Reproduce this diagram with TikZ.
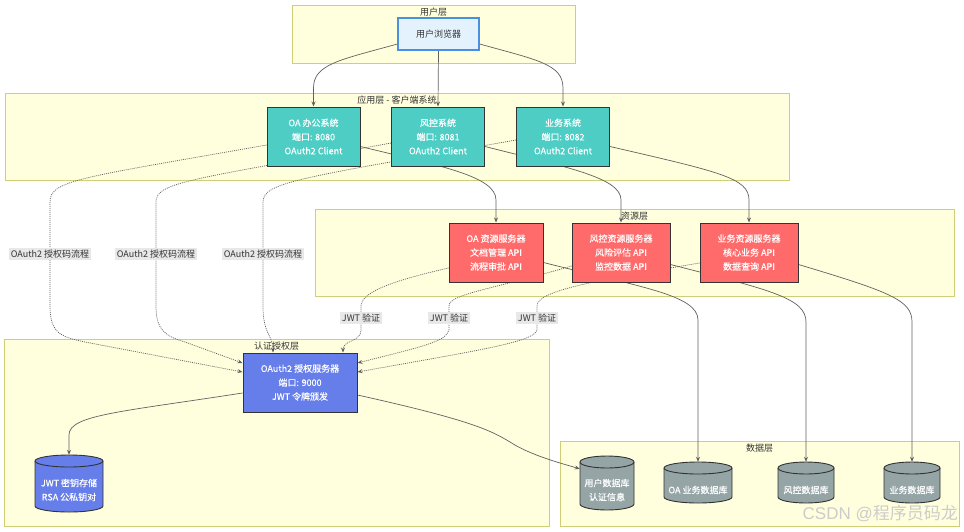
\documentclass[tikz,border=0pt]{standalone}
\usepackage{fontspec}
\setmainfont{Noto Sans CJK SC}
\newfontfamily\boxfont{Noto Sans CJK SC}[FakeBold=0.35]
\newfontfamily\wmfont{Liberation Sans}
\newfontfamily\wmcjk{Noto Sans CJK SC}
\usetikzlibrary{arrows.meta}
\pgfdeclarelayer{clusters}
\pgfdeclarelayer{edges}
\pgfdeclarelayer{nodebg}
\pgfsetlayers{clusters,edges,nodebg,main}
\definecolor{clfill}{HTML}{FFFFDE}
\definecolor{clline}{HTML}{CFCF78}
\definecolor{cteal}{HTML}{4ECDC4}
\definecolor{cred}{HTML}{FF6B6B}
\definecolor{cblue}{HTML}{667EEA}
\definecolor{cgray}{HTML}{95A5A6}
\definecolor{bfill}{HTML}{E3F2FD}
\definecolor{bline}{HTML}{4A90E2}
\definecolor{lblbg}{HTML}{E8E8E8}
\definecolor{txt}{HTML}{333333}
\tikzset{
  cluster/.style={draw=clline, fill=clfill, line width=0.9pt, inner sep=0pt},
  ctitle/.style={font=\fontsize{9}{10}\selectfont, text=txt, inner sep=0pt},
  box/.style={draw=txt, line width=1pt, inner sep=0pt, align=center, text=white, font=\boxfont\fontsize{9}{14}\selectfont},
  client/.style={box, fill=cteal, minimum width=93pt, minimum height=59pt},
  resource/.style={box, fill=cred, minimum width=96pt, minimum height=59pt},
  authbox/.style={box, fill=cblue, minimum width=114pt, minimum height=59pt},
  browser/.style={draw=bline, fill=bfill, line width=1.3pt, text=txt, font=\fontsize{9}{10}\selectfont, minimum width=81pt, minimum height=32pt},
  dbtext/.style={inner sep=0pt, align=center, text=white, font=\boxfont\fontsize{9}{14}\selectfont},
  dbline/.style={draw=txt, line width=0.9pt},
  edge/.style={draw=black!62, line width=0.7pt, -{Stealth[length=5pt,width=4pt]}},
  dedge/.style={edge, dash pattern=on 1pt off 1pt},
  elabel/.style={fill=lblbg, text=txt, font=\fontsize{9}{10}\selectfont, inner sep=1.5pt},
}
\newcommand\dbshape[6]{% name, cx, top, w, h, color
  \node[inner sep=0pt, minimum width=#4pt, minimum height=#5pt] (#1) at (#2, #3+#5/2) {};
  \begin{pgfonlayer}{nodebg}
    \draw[dbline, fill=#6] (#2-#4/2, #3+6) -- (#2-#4/2, #3+#5-6)
      arc[start angle=180, end angle=360, x radius=#4*0.5pt, y radius=6pt]
      -- (#2+#4/2, #3+6)
      arc[start angle=0, end angle=180, x radius=#4*0.5pt, y radius=6pt] -- cycle;
    \draw[dbline] (#2-#4/2, #3+6)
      arc[start angle=180, end angle=360, x radius=#4*0.5pt, y radius=6pt];
  \end{pgfonlayer}}
\begin{document}
\begin{tikzpicture}[x=1pt, y=-1pt]
\useasboundingbox (0,0) rectangle (964,531);
\begin{pgfonlayer}{clusters}
  \fill[white] (0,0) rectangle (964,531);
  \node[cluster, minimum width=283pt, minimum height=58pt] (userL) at (433.5,34) {};
  \node[cluster, minimum width=784pt, minimum height=87pt] (appL) at (397,136.5) {};
  \node[cluster, minimum width=639pt, minimum height=87pt] (resL) at (634.5,252.5) {};
  \node[cluster, minimum width=545pt, minimum height=187pt] (authL) at (276.5,432.5) {};
  \node[cluster, minimum width=399pt, minimum height=85pt] (dataL) at (759.5,483.5) {};
\end{pgfonlayer}
\node[ctitle] (userLT) at (433.5,12.5) {用户层};
\node[ctitle] (appLT) at (397,100.5) {应用层 - 客户端系统};
\node[ctitle] (resLT) at (634.5,216.5) {资源层};
\node[ctitle] (authLT) at (276.5,346.5) {认证授权层};
\node[ctitle] (dataLT) at (759.5,448.5) {数据层};

% nodes
\node[browser] (b) at (438.5,34) {用户浏览器};
\node[client] (oa) at (313.5,136.5) {OA 办公系统\\端口: 8080\\OAuth2 Client};
\node[client] (fk) at (438,136.5) {风控系统\\端口: 8081\\OAuth2 Client};
\node[client] (yw) at (563,136.5) {业务系统\\端口: 8082\\OAuth2 Client};
\node[resource, minimum width=94pt] (oar) at (496,252.5) {OA 资源服务器\\文档管理 API\\流程审批 API};
\node[resource, minimum width=98pt] (fkr) at (621,252.5) {风控资源服务器\\风险评估 API\\监控数据 API};
\node[resource, minimum width=98pt] (ywr) at (749,252.5) {业务资源服务器\\核心业务 API\\数据查询 API};
\node[authbox] (auth) at (300,382.5) {OAuth2 授权服务器\\端口: 9000\\JWT 令牌颁发};

\dbshape{jwt}{69}{455}{68}{57}{cblue}
\node[dbtext] (jwtT) at (69,490) {JWT 密钥存储\\RSA 公私钥对};
\dbshape{udb}{607}{456}{54}{54}{cgray}
\node[dbtext] (udbT) at (607,490) {用户数据库\\认证信息};
\dbshape{oadb}{698}{462}{68}{41}{cgray}
\node[dbtext] (oadbT) at (698,490) {OA 业务数据库};
\dbshape{fkdb}{806}{462}{56}{41}{cgray}
\node[dbtext] (fkdbT) at (806,490) {风控数据库};
\dbshape{ywdb}{912}{462}{56}{41}{cgray}
\node[dbtext] (ywdbT) at (912,490) {业务数据库};

\node[text=black!20, anchor=east, inner sep=0pt] (wm) at (958,513) {\wmfont\fontsize{17}{17}\selectfont CSDN @\wmcjk 程序员码龙};

\begin{pgfonlayer}{edges}
  % browser to clients
  \draw[edge] ([yshift=-10pt]b.west) .. controls (340,60) and (313.5,64) .. (313.5,88) -- (oa.north);
  \draw[edge] (b.south) -- (fk.north);
  \draw[edge] ([yshift=-10pt]b.east) .. controls (537,60) and (563,64) .. (563,88) -- (yw.north);
  % clients to resource servers
  \draw[edge] ([yshift=-10pt]oa.east) .. controls (440,166) and (496,176) .. (496,200) -- (oar.north);
  \draw[edge] ([yshift=-10pt]fk.east) .. controls (570,168) and (621,178) .. (621,200) -- (fkr.north);
  \draw[edge] ([yshift=-10pt]yw.east) .. controls (720,172) and (749,178) .. (749,200) -- (ywr.north);
  % OAuth2 flows
  \draw[dedge] ([yshift=-8.5pt]oa.west) .. controls (80,178) and (50,180) .. (50,202)
    -- node[elabel] (l1) {OAuth2 授权码流程} (50,306)
    .. controls (50,334) and (62,337) .. (85,342) -- ([yshift=10.5pt]auth.west);
  \draw[dedge] ([yshift=-6.5pt]fk.west) .. controls (190,180) and (156,182) .. (156,202)
    -- node[elabel] (l2) {OAuth2 授权码流程} (156,306)
    .. controls (156,330) and (165,336) .. (185,342) -- ([yshift=19.5pt]auth.west);
  \draw[dedge] ([yshift=-3.5pt]yw.west) .. controls (300,178) and (263,182) .. (263,202)
    -- node[elabel] (l3) {OAuth2 授权码流程} (263,306)
    .. controls (263,335) and (273,335) .. ([xshift=-27pt]auth.north);
  % JWT validation
  \draw[dedge] ([yshift=-15.5pt]oar.west) .. controls (405,278) and (361,290) .. (361,306)
    -- node[elabel] (j1) {JWT 验证} (361,330)
    .. controls (361,342) and (343,340) .. ([xshift=43pt]auth.north);
  \draw[dedge] ([yshift=-13.5pt]fkr.west) .. controls (490,290) and (449,294) .. (449,306)
    -- node[elabel] (j2) {JWT 验证} (449,330)
    .. controls (446,342) and (420,347) .. ([yshift=19.5pt]auth.east);
  \draw[dedge] ([yshift=-10.5pt]ywr.west) .. controls (600,280) and (537,290) .. (537,306)
    -- node[elabel] (j3) {JWT 验证} (537,330)
    .. controls (534,342) and (480,350) .. ([yshift=10.5pt]auth.east);
  % resource servers to databases
  \draw[edge] ([yshift=-10pt]oar.east) .. controls (640,287) and (698,295) .. (698,320) -- (oadb.north);
  \draw[edge] ([yshift=-12pt]fkr.east) .. controls (770,290) and (806,298) .. (806,322) -- (fkdb.north);
  \draw[edge] ([yshift=-12pt]ywr.east) .. controls (890,292) and (912,300) .. (912,322) -- (ywdb.north);
  % auth to stores
  \draw[edge] ([yshift=-10.5pt]auth.west) .. controls (120,412) and (69,415) .. (69,435) -- (jwt.north);
  \draw[edge] ([yshift=-12.5pt]auth.east) .. controls (470,420) and (490,430) .. (510,442)
    .. controls (530,455) and (560,463) .. ([yshift=-13pt]udb.north west);
\end{pgfonlayer}
\end{tikzpicture}
\end{document}
